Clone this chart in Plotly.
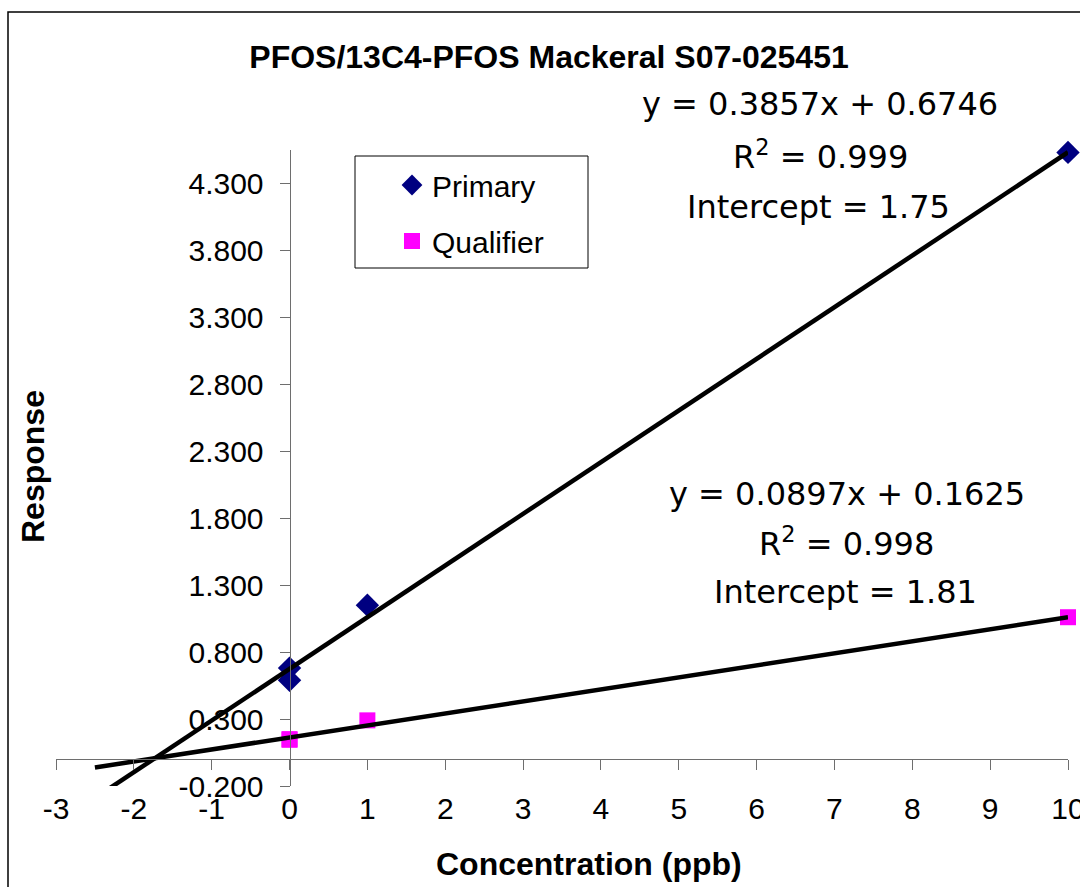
import plotly.graph_objects as go

# ---- data ----
primary_x = [0, 0, 1, 10]
primary_y = [0.68, 0.59, 1.15, 4.53]
qualifier_x = [0, 0, 1, 10]
qualifier_y = [0.15, 0.145, 0.29, 1.06]

primary_slope, primary_intercept = 0.3857, 0.6746
qualifier_slope, qualifier_intercept = 0.0897, 0.1625
trend_x = [-2.5, 10]

x_ticks = [-3, -2, -1, 0, 1, 2, 3, 4, 5, 6, 7, 8, 9, 10]
x_ticktext = ["-3", "-2", "-1", "0", "1", "2", "3", "4", "5", "6", "7", "8", "9", "10"]
y_ticks = [-0.2, 0.3, 0.8, 1.3, 1.8, 2.3, 2.8, 3.3, 3.8, 4.3]
y_ticktext = ["-0.200", "0.300", "0.800", "1.300", "1.800", "2.300", "2.800", "3.300", "3.800", "4.300"]

x_range = [-3, 10]
y_range = [-0.2, 4.548]

title_text = "PFOS/13C4-PFOS Mackeral S07-025451"
eq_primary = ["y = 0.3857x + 0.6746", "R<sup>2</sup> = 0.999", "Intercept = 1.75"]
eq_qualifier = ["y = 0.0897x + 0.1625", "R<sup>2</sup> = 0.998", "Intercept = 1.81"]

# ---- layout geometry (pixels) ----
W, H = 1080, 887
ML, MR, MT, MB = 56, 12, 150, 101
PW, PH = W - ML - MR, H - MT - MB


def px(xp):
    return (xp - ML) / PW


def py(yp):
    return (H - MB - yp) / PH


ARIAL = "Liberation Sans, Arial, sans-serif"
WIDE = "DejaVu Sans, Verdana, sans-serif"
AXIS_COLOR = "#6e6e6e"

fig = go.Figure()

fig.add_trace(go.Scatter(
    x=primary_x, y=primary_y, mode="markers", name="Primary",
    legendgroup="p",
    marker=dict(symbol="diamond", size=18, color="#000080"),
    cliponaxis=False,
))
fig.add_trace(go.Scatter(
    x=qualifier_x, y=qualifier_y, mode="markers", name="Qualifier",
    legendgroup="q",
    marker=dict(symbol="square", size=16, color="#FF00FF"),
    cliponaxis=False,
))
fig.add_trace(go.Scatter(
    x=trend_x, y=[primary_slope * v + primary_intercept for v in trend_x],
    mode="lines", line=dict(color="black", width=4.5), showlegend=False,
    hoverinfo="skip",
))
fig.add_trace(go.Scatter(
    x=trend_x, y=[qualifier_slope * v + qualifier_intercept for v in trend_x],
    mode="lines", line=dict(color="black", width=4.5), showlegend=False,
    xaxis="x2", hoverinfo="skip",
))

x_line_pos = (0 - y_range[0]) / (y_range[1] - y_range[0])
y_line_pos = (0 - x_range[0]) / (x_range[1] - x_range[0])

fig.update_layout(
    width=W, height=H,
    margin=dict(l=ML, r=MR, t=MT, b=MB, autoexpand=False),
    paper_bgcolor="white", plot_bgcolor="white",
    showlegend=True,
    title=dict(text=title_text, x=549 / W, xref="container", xanchor="center",
               y=1 - 57 / H, yref="container", yanchor="middle",
               font=dict(family=ARIAL, size=32, color="black", weight="bold")),
    xaxis=dict(range=x_range, anchor="free", position=x_line_pos,
               showline=True, linecolor=AXIS_COLOR, linewidth=1,
               ticks="outside", ticklen=10, tickwidth=1, tickcolor=AXIS_COLOR,
               tickvals=x_ticks, showticklabels=False,
               showgrid=False, zeroline=False, fixedrange=True),
    xaxis2=dict(range=x_range, overlaying="x", anchor="y", side="bottom",
                showline=False, ticks="", tickvals=x_ticks, ticktext=x_ticktext,
                tickfont=dict(family=ARIAL, size=30, color="black"),
                ticklabelstandoff=2, ticklabeloverflow="allow",
                showgrid=False, zeroline=False, fixedrange=True),
    yaxis=dict(range=y_range, anchor="free", position=y_line_pos,
               showline=True, linecolor=AXIS_COLOR, linewidth=1,
               ticks="outside", ticklen=10, tickwidth=1, tickcolor=AXIS_COLOR,
               tickvals=y_ticks, ticktext=y_ticktext,
               tickfont=dict(family=ARIAL, size=30, color="black"),
               ticklabelstandoff=10, ticklabeloverflow="allow",
               showgrid=False, zeroline=False, fixedrange=True),
    legend=dict(x=px(392), y=py(159), xanchor="left", yanchor="top",
                bgcolor="rgba(0,0,0,0)", borderwidth=0,
                font=dict(family=ARIAL, size=30, color="black"),
                tracegroupgap=14, itemwidth=30),
)

shapes = [
    # outer chart frame
    dict(type="rect", xref="paper", yref="paper",
         x0=px(8), x1=px(1095), y0=py(900), y1=py(12),
         line=dict(color="black", width=1.5), fillcolor="rgba(0,0,0,0)", layer="below"),
    # legend box
    dict(type="rect", xref="paper", yref="paper",
         x0=px(355), x1=px(588), y0=py(268), y1=py(156),
         line=dict(color="black", width=1), fillcolor="rgba(0,0,0,0)"),
]
fig.update_layout(shapes=shapes)

annotations = []
for txt, cx, cy in zip(eq_primary, [820, 820, 818], [104, 155, 207]):
    annotations.append(dict(text=txt, x=px(cx), y=py(cy), xref="paper", yref="paper",
                            xanchor="center", yanchor="middle", showarrow=False,
                            font=dict(family=WIDE, size=32, color="black")))
for txt, cx, cy in zip(eq_qualifier, [847, 846, 845], [494, 542, 592]):
    annotations.append(dict(text=txt, x=px(cx), y=py(cy), xref="paper", yref="paper",
                            xanchor="center", yanchor="middle", showarrow=False,
                            font=dict(family=WIDE, size=32, color="black")))
annotations.append(dict(text="Concentration (ppb)", x=px(589), y=py(864),
                        xref="paper", yref="paper", xanchor="center", yanchor="middle",
                        showarrow=False,
                        font=dict(family=ARIAL, size=32, color="black", weight="bold")))
annotations.append(dict(text="Response", x=px(33), y=py(467), textangle=-90,
                        xref="paper", yref="paper", xanchor="center", yanchor="middle",
                        showarrow=False,
                        font=dict(family=ARIAL, size=32, color="black", weight="bold")))
fig.update_layout(annotations=annotations)

fig.write_html("out.html")
